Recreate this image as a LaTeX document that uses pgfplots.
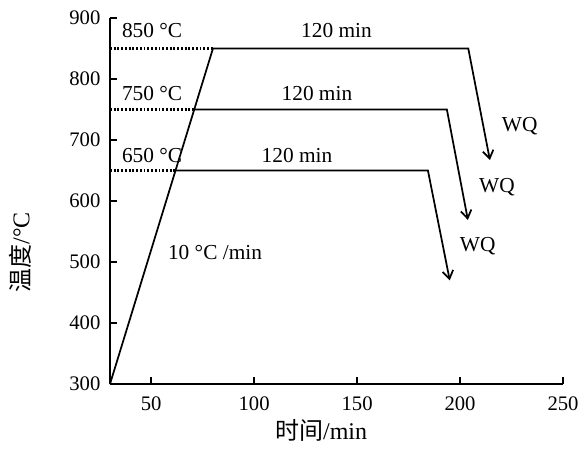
\documentclass[border=0pt]{standalone}
\usepackage{pgfplots}
\pgfplotsset{compat=1.18}
\usepackage{fontspec}
\setmainfont{Liberation Serif}
\newfontfamily\cjk{Noto Sans CJK SC}
\usetikzlibrary{arrows.meta}
\begin{document}
\fontsize{15}{17}\selectfont
\begin{tikzpicture}[x=1pt,y=1pt, every node/.append style={font=\fontsize{16}{18}\selectfont}]
\begin{axis}[
  at={(0,0)}, anchor=south west,
  scale only axis, width=339.75pt, height=274.5pt,
  xmin=30, xmax=250, ymin=300, ymax=900,
  axis x line=bottom, axis y line=left,
  axis line style={-, line width=1.3pt},
  tick style={line width=1.3pt, black},
  major tick length=5pt,
  tick align=inside,
  xtick={50,100,150,200,250},
  ytick={300,400,500,600,700,800,900},
  /pgf/number format/assume math mode=true,
  tick label style={font=\fontsize{15.5}{17}\selectfont},
  xticklabel style={yshift=-4pt},
  yticklabel style={xshift=-2pt},
  xlabel={{\cjk 时间}/min},
  ylabel={{\cjk 温度}/°C},
  xlabel style={at={(axis description cs:0.466,-0.128)}, anchor=center, font=\fontsize{18}{20}\selectfont},
  ylabel style={at={(axis description cs:-0.198,0.36)}, anchor=center, rotate=0, font=\fontsize{18}{20}\selectfont},
  clip=false,
]
\addplot[black, line width=1.3pt] coordinates {(30,300) (80,850)};
\addplot[black, line width=1.3pt, -{Straight Barb[length=6pt,width=8pt,line width=1.3pt]}] coordinates {(80,850) (204,850) (214.5,667)};
\addplot[black, line width=1.3pt, -{Straight Barb[length=6pt,width=8pt,line width=1.3pt]}] coordinates {(70.9,750) (193.6,750) (203.8,569)};
\addplot[black, line width=1.3pt, -{Straight Barb[length=6pt,width=8pt,line width=1.3pt]}] coordinates {(61.8,650) (184.4,650) (195,470)};
\addplot[black, line width=1.6pt, dash pattern=on 1.4pt off 1.4pt] coordinates {(30,850) (80,850)};
\addplot[black, line width=1.6pt, dash pattern=on 1.4pt off 1.4pt] coordinates {(30,750) (70.9,750)};
\addplot[black, line width=1.6pt, dash pattern=on 1.4pt off 1.4pt] coordinates {(30,650) (61.8,650)};
\node[anchor=west] at (axis cs:32.5,879) {850 °C};
\node[anchor=west] at (axis cs:32.5,777) {750 °C};
\node[anchor=west] at (axis cs:32.5,675) {650 °C};
\node at (axis cs:140,879) {120 min};
\node at (axis cs:130.5,777) {120 min};
\node at (axis cs:120.8,675) {120 min};
\node at (axis cs:229,723) {WQ};
\node at (axis cs:217.9,623) {WQ};
\node at (axis cs:208.6,526) {WQ};
\node at (axis cs:81,515) {10 °C /min};
\end{axis}
\pgfresetboundingbox
\path (-82.5pt,-49.5pt) rectangle (352.5pt,288pt);
\end{tikzpicture}
\end{document}
